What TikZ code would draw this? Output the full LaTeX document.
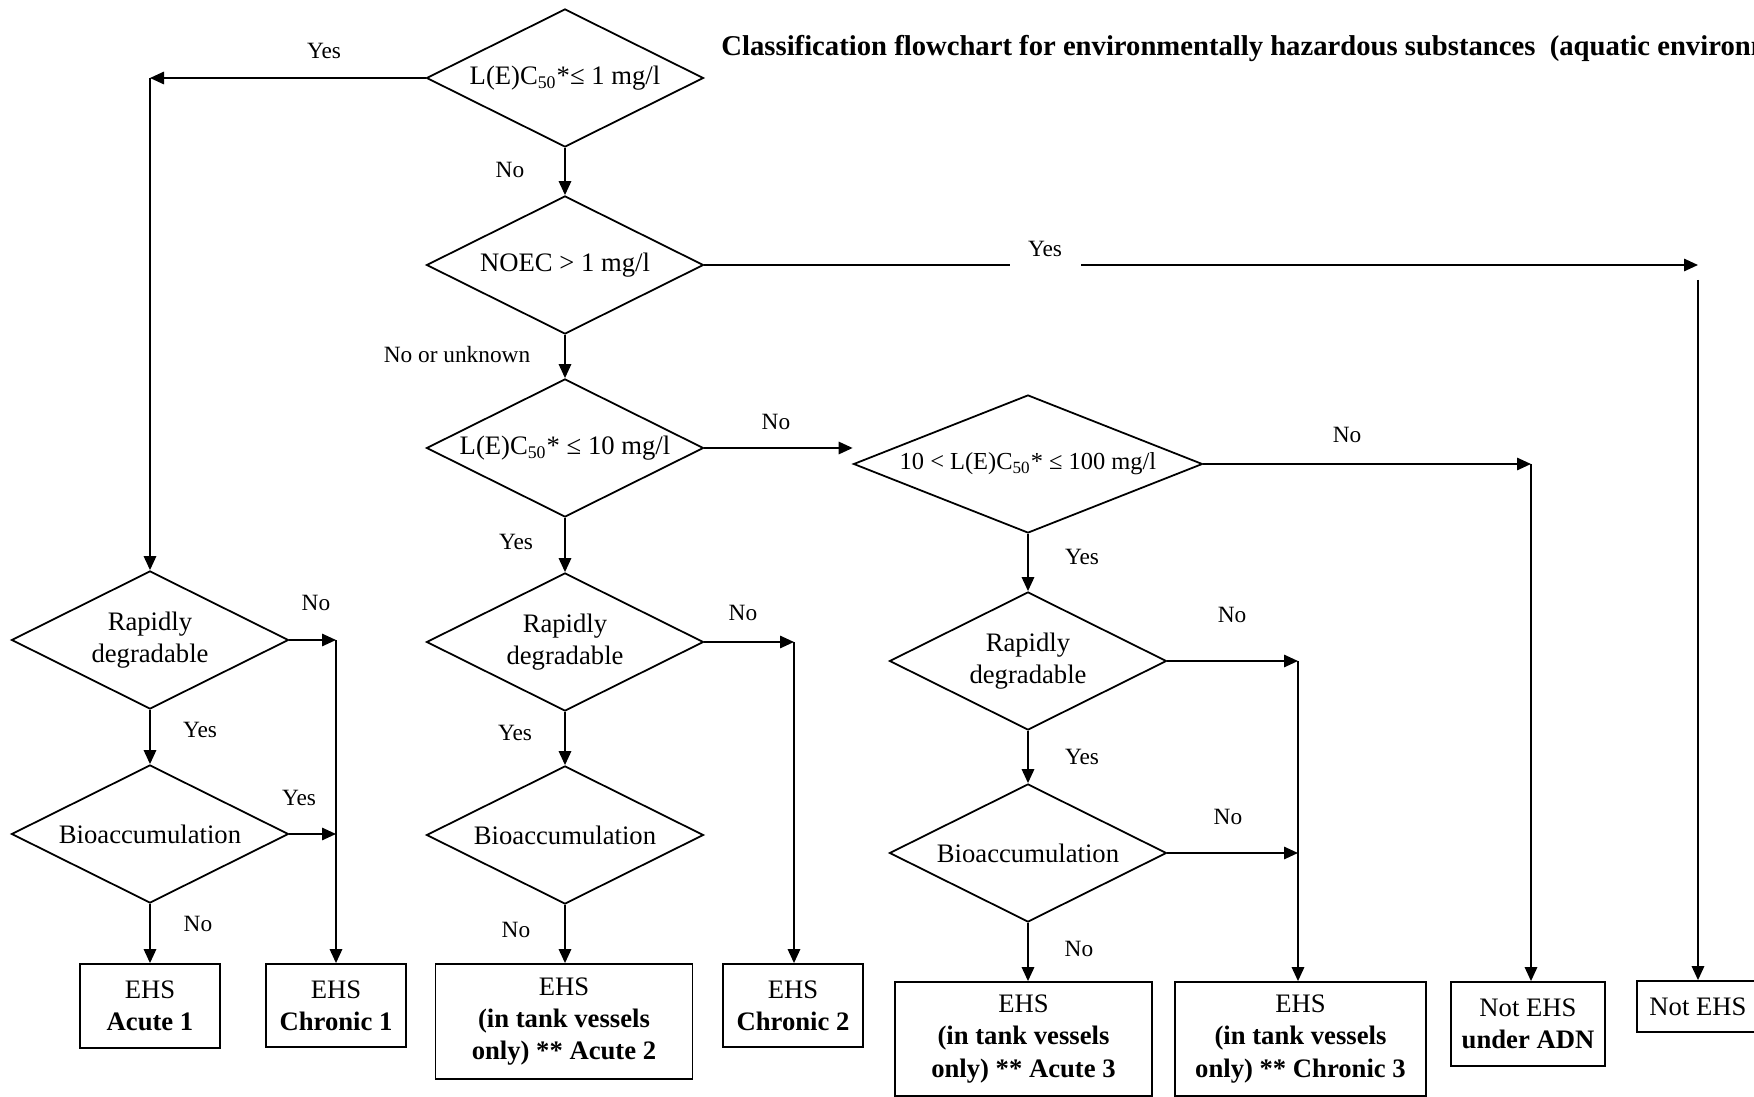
\documentclass[tikz,border=0pt]{standalone}
\usepackage{fontspec}
\setmainfont{Liberation Serif}
\usetikzlibrary{shapes.geometric,arrows.meta}

\begin{document}
\begin{tikzpicture}[x=0.45pt,y=0.45pt,yscale=-1,xscale=1,
  decision/.style={draw,line width=0.8pt,diamond,inner sep=0pt,aspect=2,minimum width=124.65pt,minimum height=62.1pt,align=center,font=\fontsize{12}{14.5}\selectfont},
  result/.style={draw,line width=0.8pt,rectangle,inner sep=0pt,align=center,font=\fontsize{12}{14.5}\selectfont},
  lbl/.style={font=\fontsize{10.5}{12}\selectfont},
  ln/.style={line width=0.8pt},
  arr/.style={line width=0.8pt,-{Triangle[length=6.3pt,width=5.6pt]}}]
\useasboundingbox (0,0) rectangle (1754,1097);
\clip (0,0) rectangle (1754,1097);

%Title
\node [anchor=base west,inner sep=0pt,font=\bfseries\fontsize{12.9}{15}\selectfont] (title) at (721,56) {Classification flowchart for environmentally hazardous substances\ \ (aquatic environment)};

%Shape: Diamond [column 2]
\node [decision] (lc1) at (565,78) {L(E)C\textsubscript{50}*≤ 1 mg/l};
\node [decision] (noec) at (565,265) {NOEC > 1 mg/l};
\node [decision] (lc10) at (565,448) {L(E)C\textsubscript{50}* ≤ 10 mg/l};
\node [decision] (rapid2) at (565,642) {Rapidly\\degradable};
\node [decision] (bio2) at (565,835) {Bioaccumulation};
%Shape: Diamond [column 1]
\node [decision] (rapid1) at (150,640) {Rapidly\\degradable};
\node [decision] (bio1) at (150,834) {Bioaccumulation};
%Shape: Diamond [column 3]
\node [decision,aspect=2.5,minimum width=157.05pt,font=\fontsize{11}{13}\selectfont] (lc100) at (1028,464) {10 < L(E)C\textsubscript{50}* ≤ 100 mg/l};
\node [decision] (rapid3) at (1028,661) {Rapidly\\degradable};
\node [decision] (bio3) at (1028,853) {Bioaccumulation};

%Shape: Rectangle [results]
\node [result,minimum width=63pt,minimum height=37.8pt] (acute1) at (150,1006) {EHS\\\textbf{Acute 1}};
\node [result,minimum width=63pt,minimum height=37.35pt] (chronic1) at (336,1005.5) {EHS\\\textbf{Chronic 1}};
\node [result,minimum width=115.65pt,minimum height=51.75pt] (acute2) at (564,1021.5) {EHS\\\textbf{(in tank vessels}\\\textbf{only) ** Acute 2}};
\node [result,minimum width=63pt,minimum height=37.35pt] (chronic2) at (793,1005.5) {EHS\\\textbf{Chronic 2}};
\node [result,minimum width=115.65pt,minimum height=51.3pt] (acute3) at (1023.5,1039) {EHS\\\textbf{(in tank vessels}\\\textbf{only) ** Acute 3}};
\node [result,minimum width=112.95pt,minimum height=51.3pt] (chronic3) at (1300.5,1039) {EHS\\\textbf{(in tank vessels}\\\textbf{only) ** Chronic 3}};
\node [result,minimum width=69.3pt,minimum height=37.8pt] (notadn) at (1528,1024) {Not EHS\\\textbf{under ADN}};
\node [result,minimum width=54.9pt,minimum height=22.95pt] (notehs) at (1698,1006.5) {Not EHS};

%Corners
\coordinate (yescorner) at (150,78);
\coordinate (gapleft) at (1010,265);
\coordinate (gapright) at (1081,265);
\coordinate (noeccorner) at (1698,265);
\coordinate (noectop) at (1698,280);
\coordinate (col1join) at (336,640);
\coordinate (col2join) at (794,642);
\coordinate (col3join) at (1298,661);
\coordinate (adnjoin) at (1531,464);

%Straight Lines [column 1]
\draw [arr] (lc1.west) -- (yescorner);
\draw [arr] (yescorner) -- (rapid1.north);
\draw [arr] (rapid1.east) -- (col1join);
\draw [arr] (col1join) -- (col1join |- chronic1.north);
\draw [arr] (rapid1.south) -- (bio1.north);
\draw [arr] (bio1.east) -- (bio1.east -| col1join);
\draw [arr] (bio1.south) -- (bio1.south |- acute1.north);

%Straight Lines [column 2]
\draw [arr] (lc1.south) -- (noec.north);
\draw [ln] (noec.east) -- (gapleft);
\draw [arr] (gapright) -- (noeccorner);
\draw [arr] (noectop) -- (noectop |- notehs.north);
\draw [arr] (noec.south) -- (lc10.north);
\draw [arr] (lc10.east) -- (lc10.east -| lc100.west);
\draw [arr] (lc10.south) -- (rapid2.north);
\draw [arr] (rapid2.east) -- (col2join);
\draw [arr] (col2join) -- (col2join |- chronic2.north);
\draw [arr] (rapid2.south) -- (bio2.north);
\draw [arr] (bio2.south) -- (bio2.south |- acute2.north);

%Straight Lines [column 3]
\draw [arr] (lc100.east) -- (adnjoin);
\draw [arr] (adnjoin) -- (adnjoin |- notadn.north);
\draw [arr] (lc100.south) -- (rapid3.north);
\draw [arr] (rapid3.east) -- (col3join);
\draw [arr] (col3join) -- (col3join |- chronic3.north);
\draw [arr] (rapid3.south) -- (bio3.north);
\draw [arr] (bio3.east) -- (bio3.east -| col3join);
\draw [arr] (bio3.south) -- (bio3.south |- acute3.north);

% Text Node
\node [lbl] (l1) at (324,51) {Yes};
\node [lbl] (l2) at (510,170) {No};
\node [lbl] (l3) at (1045,249) {Yes};
\node [lbl] (l4) at (457,355) {No or unknown};
\node [lbl] (l5) at (776,422) {No};
\node [lbl] (l6) at (516,542) {Yes};
\node [lbl] (l7) at (743,613) {No};
\node [lbl] (l8) at (515,733) {Yes};
\node [lbl] (l9) at (516,930) {No};
\node [lbl] (l10) at (316,603) {No};
\node [lbl] (l11) at (200,730) {Yes};
\node [lbl] (l12) at (299,798) {Yes};
\node [lbl] (l13) at (198,924) {No};
\node [lbl] (l14) at (1347,435) {No};
\node [lbl] (l15) at (1082,557) {Yes};
\node [lbl] (l16) at (1232,615) {No};
\node [lbl] (l17) at (1082,757) {Yes};
\node [lbl] (l18) at (1228,817) {No};
\node [lbl] (l19) at (1079,949) {No};

\end{tikzpicture}
\end{document}
